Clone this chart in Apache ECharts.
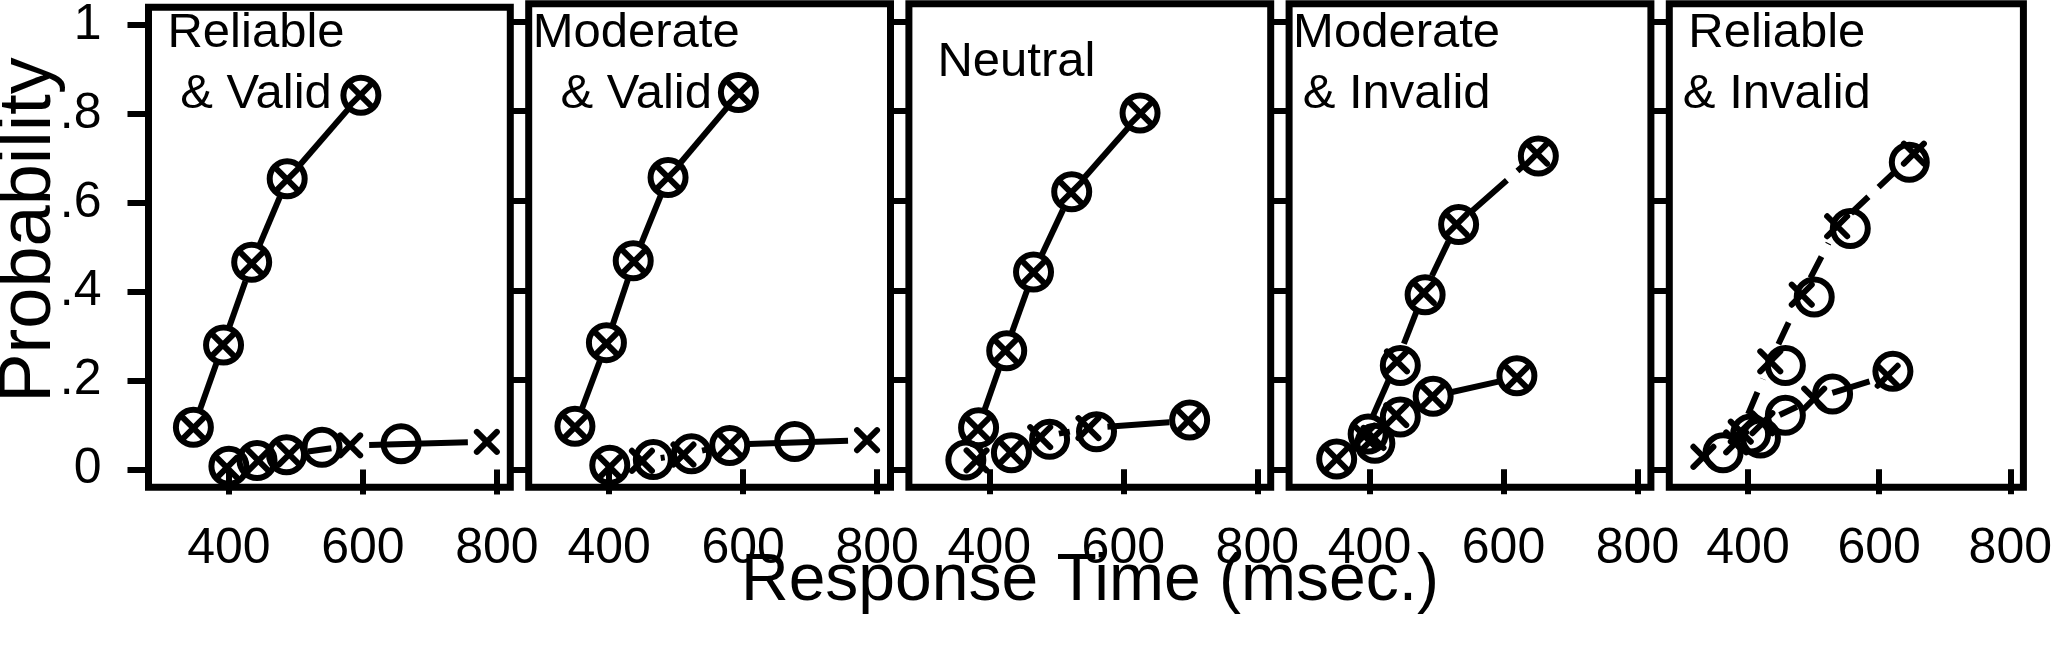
<!DOCTYPE html>
<html>
<head>
<meta charset="utf-8">
<script src="https://cdn.jsdelivr.net/npm/echarts@6/dist/echarts.min.js"></script>
<style>
html,body{margin:0;padding:0;background:#fff;}
#chart{width:2055px;height:651px;}
</style>
</head>
<body>
<div id="chart"></div>
<script>
// ---- data (x = response time in msec, y = probability) ----
const panelLabels = [['Reliable', '& Valid'], ['Moderate', '& Valid'], ['Neutral'], ['Moderate', '& Invalid'], ['Reliable', '& Invalid']];
const xTickValues = [400, 600, 800];
const yTickValues = [0, 0.2, 0.4, 0.6, 0.8, 1];
const yTickLabels = ['0', '.2', '.4', '.6', '.8', '1'];
const xTitle = 'Response Time (msec.)';
const yTitle = 'Probability';

// Panel 1: Reliable & Valid
const p1CorrectData  = [[347, 0.095], [392, 0.280], [434, 0.466], [487, 0.654], [597, 0.842]];
const p1CorrectModel = [[347, 0.093], [391, 0.280], [434, 0.463], [487, 0.652], [596, 0.842]];
const p1ErrorData    = [[400, 0.007], [442, 0.020], [486, 0.033], [539, 0.050], [657, 0.058]];
const p1ErrorModel   = [[397, 0.004], [444, 0.020], [490, 0.034], [581, 0.054], [785, 0.062]];
// Panel 2: Moderate & Valid
const p2CorrectData  = [[349, 0.096], [396, 0.283], [436, 0.466], [488, 0.652], [593, 0.842]];
const p2CorrectModel = [[349, 0.094], [396, 0.281], [437, 0.464], [488, 0.652], [594, 0.840]];
const p2ErrorData    = [[401, 0.009], [466, 0.022], [523, 0.035], [580, 0.053], [677, 0.062]];
const p2ErrorModel   = [[401, 0.005], [449, 0.019], [511, 0.033], [580, 0.055], [785, 0.065]];
// Panel 3: Neutral
const p3CorrectData  = [[384, 0.093], [426, 0.265], [466, 0.441], [523, 0.620], [625, 0.796]];
const p3CorrectModel = [[383, 0.090], [424, 0.265], [466, 0.440], [522, 0.618], [626, 0.795]];
const p3ErrorData    = [[365, 0.021], [433, 0.037], [490, 0.067], [560, 0.084], [699, 0.110]];
const p3ErrorModel   = [[381, 0.020], [432, 0.038], [476, 0.072], [548, 0.092], [697, 0.108]];
// Panel 4: Moderate & Invalid
const p4CorrectData  = [[398, 0.079], [446, 0.232], [483, 0.390], [533, 0.547], [652, 0.700]];
const p4CorrectModel = [[392, 0.075], [441, 0.241], [481, 0.394], [530, 0.547], [650, 0.705]];
const p4ErrorData    = [[351, 0.023], [408, 0.058], [446, 0.117], [495, 0.163], [620, 0.209]];
const p4ErrorModel   = [[351, 0.023], [406, 0.070], [440, 0.121], [494, 0.163], [620, 0.205]];
// Panel 5: Reliable & Invalid
const p5CorrectData  = [[404, 0.079], [457, 0.232], [501, 0.385], [556, 0.538], [646, 0.686]];
const p5CorrectModel = [[389, 0.084], [434, 0.241], [482, 0.390], [536, 0.543], [653, 0.705]];
const p5ErrorData    = [[362, 0.037], [419, 0.070], [457, 0.121], [529, 0.168], [621, 0.219]];
const p5ErrorModel   = [[332, 0.028], [382, 0.060], [422, 0.103], [501, 0.158], [613, 0.209]];

const panels = [
  {cd: p1CorrectData, cm: p1CorrectModel, ed: p1ErrorData, em: p1ErrorModel},
  {cd: p2CorrectData, cm: p2CorrectModel, ed: p2ErrorData, em: p2ErrorModel},
  {cd: p3CorrectData, cm: p3CorrectModel, ed: p3ErrorData, em: p3ErrorModel},
  {cd: p4CorrectData, cm: p4CorrectModel, ed: p4ErrorData, em: p4ErrorModel},
  {cd: p5CorrectData, cm: p5CorrectModel, ed: p5ErrorData, em: p5ErrorModel}
];
// line styles of the model curves per panel [correct, error]
const lineDashes = [[null, null], [null, null], [null, null], [[48, 14], null], [[24, 14], null]];

// ---- layout ----
const FONT = "'Liberation Sans', Arial, Helvetica, sans-serif";
const GRID_LEFT0 = 148.5, GRID_STEP = 380.2, GRID_W = 361.8, GRID_TOP = 3.8, GRID_H = 483.4;
const LW = 6, GAP = 19, XS = 10;

const chart = echarts.init(document.getElementById('chart'), null, {renderer: 'canvas'});

function segmentsOf(pts) {
  const out = [];
  for (let i = 0; i < pts.length - 1; i++) out.push([pts[i][0], pts[i][1], pts[i + 1][0], pts[i + 1][1]]);
  return out;
}
function segRender(dash) {
  return function (params, api) {
    const a = api.coord([api.value(0), api.value(1)]);
    const b = api.coord([api.value(2), api.value(3)]);
    const dx = b[0] - a[0], dy = b[1] - a[1], d = Math.hypot(dx, dy);
    if (d <= 2 * GAP) return {type: 'group', children: []};
    const ux = dx / d, uy = dy / d;
    return {
      type: 'line',
      shape: {x1: a[0] + ux * GAP, y1: a[1] + uy * GAP, x2: b[0] - ux * GAP, y2: b[1] - uy * GAP},
      style: {stroke: '#000', lineWidth: LW, lineDash: dash || null, lineCap: 'butt', fill: null}
    };
  };
}
function xRender(params, api) {
  const p = api.coord([api.value(0), api.value(1)]);
  const st = {stroke: '#000', lineWidth: LW, lineCap: 'round', fill: null};
  return {type: 'group', children: [
    {type: 'line', shape: {x1: p[0] - XS, y1: p[1] - XS, x2: p[0] + XS, y2: p[1] + XS}, style: st},
    {type: 'line', shape: {x1: p[0] - XS, y1: p[1] + XS, x2: p[0] + XS, y2: p[1] - XS}, style: st}
  ]};
}

const grids = [], xAxes = [], yAxes = [], series = [], graphics = [];
panels.forEach(function (pn, k) {
  const left = GRID_LEFT0 + GRID_STEP * k;
  grids.push({left: left, top: GRID_TOP, width: GRID_W, height: GRID_H, show: true,
    borderColor: '#000', borderWidth: 7, backgroundColor: 'transparent', containLabel: false});
  xAxes.push({type: 'value', gridIndex: k, min: 280, max: 820,
    axisLine: {show: false}, splitLine: {show: false},
    axisTick: {show: true, length: 25, customValues: xTickValues, lineStyle: {color: '#000', width: LW}},
    axisLabel: {show: true, customValues: xTickValues, color: '#000', fontSize: 50, fontFamily: FONT,
      margin: 62, verticalAlign: 'middle'}
  });
  yAxes.push({type: 'value', gridIndex: k, min: -0.04, max: 1.04,
    axisLine: {show: false}, splitLine: {show: false},
    axisTick: {show: true, length: 21, customValues: yTickValues, lineStyle: {color: '#000', width: LW}},
    axisLabel: {show: k === 0, customValues: yTickValues, color: '#000', fontSize: 50, fontFamily: FONT,
      margin: 47, formatter: function (v) {
        for (let i = 0; i < yTickValues.length; i++) if (Math.abs(yTickValues[i] - v) < 1e-9) return yTickLabels[i];
        return '';
      }}
  });
  const curves = [[pn.cm, pn.cd, lineDashes[k][0]], [pn.em, pn.ed, lineDashes[k][1]]];
  curves.forEach(function (c) {
    series.push({type: 'custom', xAxisIndex: k, yAxisIndex: k, renderItem: segRender(c[2]),
      data: segmentsOf(c[0]), encode: {x: [0, 2], y: [1, 3]}, z: 2, silent: true});
    series.push({type: 'custom', xAxisIndex: k, yAxisIndex: k, renderItem: xRender,
      data: c[0], encode: {x: 0, y: 1}, z: 3, silent: true});
    series.push({type: 'scatter', xAxisIndex: k, yAxisIndex: k, data: c[1], symbol: 'circle', symbolSize: 35,
      itemStyle: {color: 'rgba(0,0,0,0)', borderColor: '#000', borderWidth: LW, opacity: 1}, z: 4, silent: true});
  });
  // panel label
  const lines = panelLabels[k];
  const cx = left + 107.5;
  const ys = lines.length === 1 ? [62] : [33, 94];
  lines.forEach(function (t, i) {
    graphics.push({type: 'text', x: cx, y: ys[i], z: 10, silent: true,
      style: {text: t, fill: '#000', fontSize: 49, fontFamily: FONT, align: 'center', verticalAlign: 'middle'}});
  });
});
graphics.push({type: 'text', x: 1090, y: 582, z: 10, silent: true,
  style: {text: xTitle, fill: '#000', fontSize: 66, fontFamily: FONT, align: 'center', verticalAlign: 'middle'}});
graphics.push({type: 'text', x: 30, y: 230, rotation: Math.PI / 2, z: 10, silent: true,
  style: {text: yTitle, fill: '#000', fontSize: 74, fontFamily: FONT, align: 'center', verticalAlign: 'middle'}});

chart.setOption({
  animation: false,
  backgroundColor: '#fff',
  grid: grids, xAxis: xAxes, yAxis: yAxes, series: series, graphic: graphics
});
</script>
</body>
</html>
